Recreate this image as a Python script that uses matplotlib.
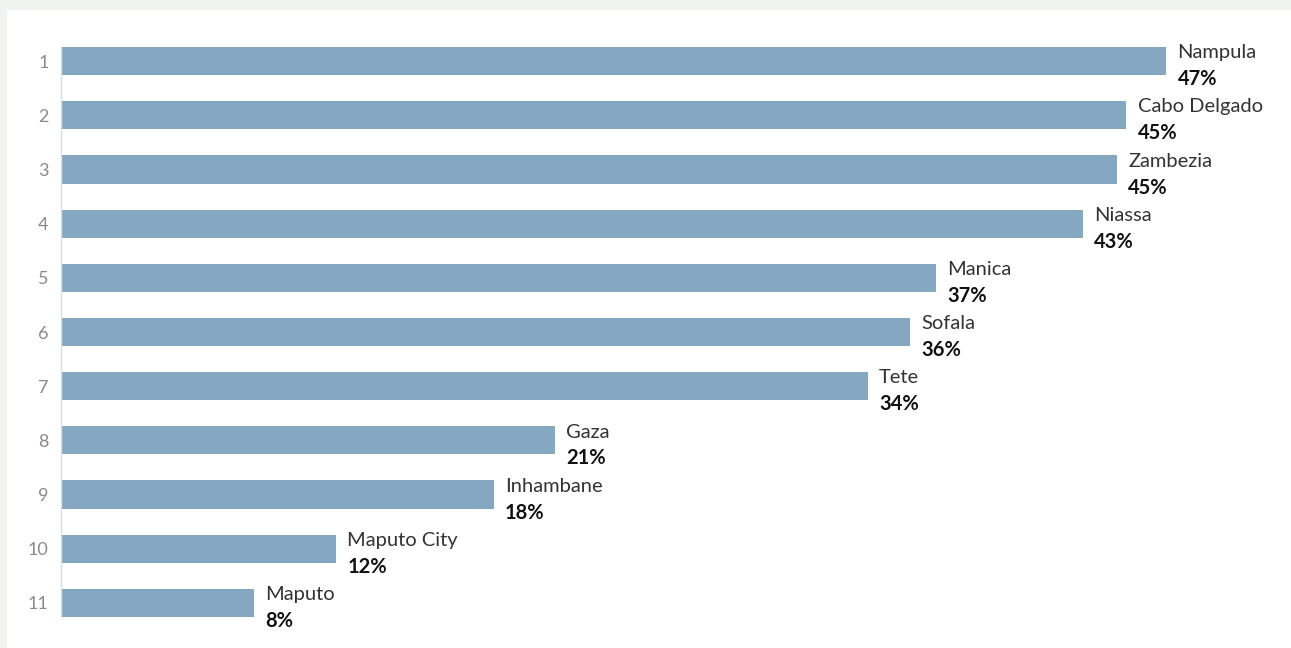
import matplotlib.pyplot as plt
from matplotlib.patches import Rectangle

ranks = [1, 2, 3, 4, 5, 6, 7, 8, 9, 10, 11]
provinces = ["Nampula", "Cabo Delgado", "Zambezia", "Niassa", "Manica", "Sofala",
             "Tete", "Gaza", "Inhambane", "Maputo City", "Maputo"]
shares = [47.0, 45.3, 44.9, 43.45, 37.2, 36.1, 34.3, 21.0, 18.4, 11.7, 8.2]

bar_color = "#84a8c2"
bar_height = 0.52

fig = plt.figure(figsize=(12.91, 6.48), dpi=100, facecolor="#f1f3ee")
fig.patches.append(Rectangle((7 / 1291, 0), 1, 1 - 10 / 648, transform=fig.transFigure,
                             facecolor="white", edgecolor="none", zorder=-10))

ax = fig.add_axes([61 / 1291, 1 - 617 / 648, (1270 - 61) / 1291, (617 - 47) / 648])
ax.set_facecolor("none")

ax.barh(ranks, shares, height=bar_height, color=bar_color, zorder=2)

for r, name, v in zip(ranks, provinces, shares):
    ax.annotate(name, (v, r), xytext=(8, 6), textcoords="offset points",
                ha="left", va="center", fontsize=14.5, family="Lato", color="#333333",
                annotation_clip=False)
    ax.annotate(f"{v:.0f}%", (v, r), xytext=(8, -13), textcoords="offset points",
                ha="left", va="center", fontsize=14.5, family="Lato", fontweight="bold",
                color="#111111", annotation_clip=False)

ax.set_xlim(0, (1270 - 61) / 23.52)
ax.set_ylim(11 + bar_height / 2, 1 - bar_height / 2)
ax.set_yticks(ranks)
ax.set_yticklabels([str(r) for r in ranks], fontsize=13, family="Lato", color="#8a8a8a")
ax.tick_params(axis="y", length=0, pad=9)
ax.set_xticks([])

for side in ["top", "right", "bottom"]:
    ax.spines[side].set_visible(False)
ax.spines["left"].set_color("#d8e0e6")
ax.spines["left"].set_linewidth(1)

fig.savefig("out.png", dpi=100, facecolor=fig.get_facecolor())
